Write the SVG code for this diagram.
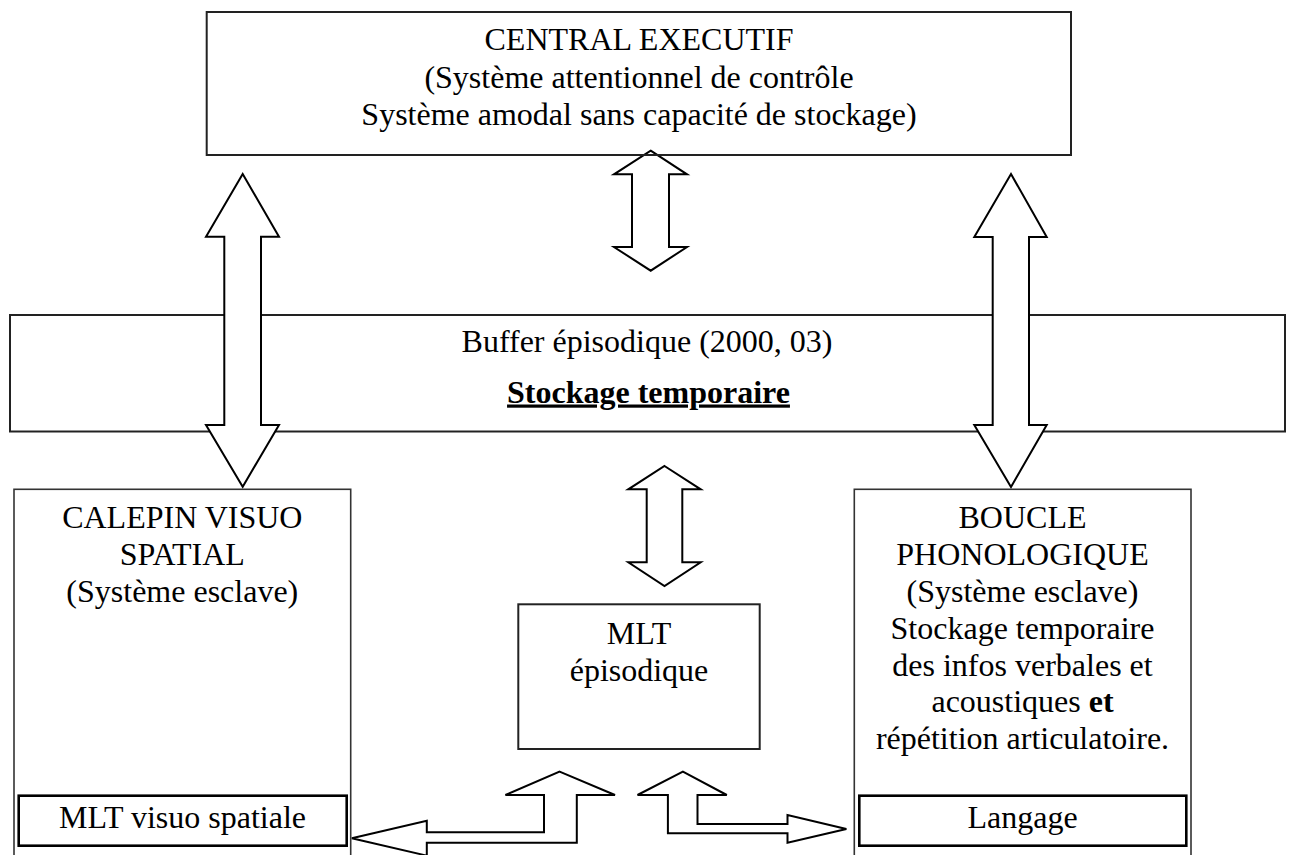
<svg xmlns="http://www.w3.org/2000/svg" width="1293" height="855" viewBox="0 0 1293 855">
<style>
text{font-family:"Liberation Serif","Times New Roman",serif;font-size:32px;fill:#000;text-anchor:middle}
.box{fill:none;stroke:#222;stroke-width:2}
.thin{fill:none;stroke:#333;stroke-width:1.6}
.inner{fill:none;stroke:#000;stroke-width:2.6}
.arrow{fill:#fff;stroke:#000;stroke-width:2;stroke-linejoin:miter}
.b{font-weight:bold}
</style>
<rect width="1293" height="855" fill="#fff"/>
<g id="buffer">
<rect class="box" x="10" y="315" width="1275" height="116.5"/>
<text x="647" y="352">Buffer épisodique (2000, 03)</text>
<text x="648.5" y="402.5" class="b" text-decoration="underline">Stockage temporaire</text>
</g>
<g id="connectors">
<polygon class="arrow" points="242.7,174 279,236.7 261,236.7 261,425 279,425 242.7,486.7 206,425 224.3,425 224.3,236.7 206,236.7"/>
<polygon class="arrow" points="1011,174 1046.7,237 1029,237 1029,425 1046.7,425 1011,487 974.3,425 992.7,425 992.7,237 974.3,237"/>
<polygon class="arrow" points="650.7,150.7 687,174.3 669,174.3 669,247 687,247 650.7,270.7 614,247 632,247 632,174.3 614,174.3"/>
<polygon class="arrow" points="664.5,466 700.7,489.3 682.3,489.3 682.3,562.3 700.7,562.3 664.5,586 628.3,562.3 646.7,562.3 646.7,489.3 628.3,489.3"/>
<polygon class="arrow" points="559.6,771.7 615,795 576.8,795 576.8,842.7 426.8,842.7 426.8,855.6 351.8,838.3 426.8,820.7 426.8,832.3 544,832.3 544,795 505.4,795"/>
<polygon class="arrow" points="682.9,771.7 726.8,795 697.5,795 697.5,824 787.5,824 787.5,815 846.4,829 787.5,842.7 787.5,833.3 667.9,833.3 667.9,795 637.5,795"/>
</g>
<g id="central-executif">
<rect class="box" x="206.7" y="12" width="864.3" height="143"/>
<text x="639" y="50">CENTRAL EXECUTIF</text>
<text x="639" y="88">(Système attentionnel de contrôle</text>
<text x="639" y="125">Système amodal sans capacité de stockage)</text>
</g>
<g id="calepin">
<rect class="thin" x="14" y="489.3" width="336.7" height="380"/>
<text x="182.3" y="528">CALEPIN VISUO</text>
<text x="182.3" y="565">SPATIAL</text>
<text x="182.3" y="602">(Système esclave)</text>
</g>
<g id="mlt-visuo-spatiale">
<rect class="inner" x="18.7" y="795.7" width="328" height="50"/>
<text x="182.5" y="828">MLT visuo spatiale</text>
</g>
<g id="boucle">
<rect class="thin" x="854.3" y="489.3" width="336.7" height="380"/>
<text x="1022.5" y="528">BOUCLE</text>
<text x="1022.5" y="565">PHONOLOGIQUE</text>
<text x="1022.5" y="602">(Système esclave)</text>
<text x="1022.5" y="639">Stockage temporaire</text>
<text x="1022.5" y="676">des infos verbales et</text>
<text x="1022.5" y="712">acoustiques <tspan class="b">et</tspan></text>
<text x="1022.5" y="749">répétition articulatoire.</text>
</g>
<g id="langage">
<rect class="inner" x="859.3" y="795.7" width="327" height="50"/>
<text x="1022.5" y="828">Langage</text>
</g>
<g id="mlt-episodique">
<rect class="box" x="518.3" y="604.3" width="241.4" height="144.7"/>
<text x="639" y="644">MLT</text>
<text x="639" y="681">épisodique</text>
</g>
</svg>
